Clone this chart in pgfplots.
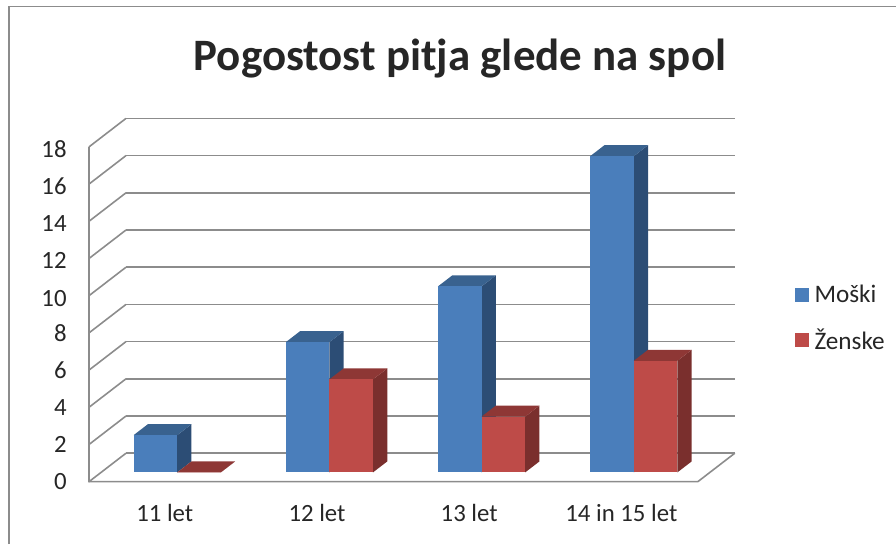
\documentclass[border=0pt]{standalone}
\usepackage{pgfplots}
\pgfplotsset{compat=1.18}
\usepackage{fontspec}
\setmainfont{Carlito}
\definecolor{gridgray}{HTML}{8C8C8C}
\definecolor{blueF}{HTML}{4A7EBB}
\definecolor{blueT}{HTML}{39628F}
\definecolor{blueS}{HTML}{2C4D75}
\definecolor{redF}{HTML}{BE4B48}
\definecolor{redT}{HTML}{8E3735}
\definecolor{redS}{HTML}{7A2F2D}
\definecolor{txt}{HTML}{262626}
% #1 left edge, #2 right edge, #3 value, #4 colour family
\newcommand{\threedbar}[4]{%
  \addplot3[fill=#4S,draw=none,forget plot] coordinates {(#2,0.326,0) (#2,0.712,0) (#2,0.712,#3) (#2,0.326,#3)};
  \addplot3[fill=#4T,draw=none,forget plot] coordinates {(#1,0.326,#3) (#2,0.326,#3) (#2,0.712,#3) (#1,0.712,#3)};
  \addplot3[fill=#4F,draw=none,forget plot] coordinates {(#1,0.326,0) (#2,0.326,0) (#2,0.326,#3) (#1,0.326,#3)};
}
\begin{document}
\begin{tikzpicture}[x=0.75pt,y=0.75pt]
\path[use as bounding box] (0,0) rectangle (896,544);
\draw[gridgray,line width=0.9pt] (9,0) -- (9,537.3) -- (896,537.3);
\begin{axis}[
  at={(123.83pt,46.73pt)}, anchor=origin,
  x={(114.15pt,0pt)}, y={(27.75pt,21.375pt)}, z={(0pt,13.95pt)},
  xmin=-0.5, xmax=3.5, ymin=0, ymax=1, zmin=0, zmax=18,
  clip=false,
  axis line style={draw=none},
  tick style={draw=none},
  xtick={0,1,2,3},
  xticklabels={11 let,12 let,13 let,14 in 15 let},
  ytick=\empty,
  ztick={0,2,4,6,8,10,12,14,16,18},
  zmajorgrids=true,
  major grid style={gridgray,line width=1.2pt},
  /pgf/number format/assume math mode=true,
  tick label style={font=\fontsize{18.6pt}{22pt}\selectfont,text=txt},
  zticklabel style={xshift=-13.25pt,yshift=2.6pt},
  xticklabel style={xshift=4.7pt,yshift=-13.75pt},
  title={\textbf{Pogostost pitja glede na spol}},
  title style={font=\fontsize{33.7pt}{40pt}\selectfont,text=txt,at={(axis cs:1.937,0,22.3)},anchor=center},
  legend style={at={(axis cs:4.138,0,10.71)},anchor=north west,draw=none,fill=none,inner sep=0pt,outer sep=0pt,
    font=\fontsize{18.9pt}{22pt}\selectfont,text=txt,row sep=13.8pt},
  legend cell align=left,
  legend image code/.code={\fill[#1] (0pt,-5.2pt) rectangle (10.5pt,5.2pt);\path (12.7pt,0pt);},
]
\addlegendimage{fill=blueF,draw=none}
\addlegendentry{Moški}
\addlegendimage{fill=redF,draw=none}
\addlegendentry{Ženske}
\addplot3[gridgray,line width=1.2pt,forget plot] coordinates {(-0.5,0,18) (-0.5,0,0) (3.5,0,0) (3.5,1,0)};
\threedbar{-0.2866}{0}{2}{blue}
\threedbar{0}{0.2866}{0}{red}
\threedbar{0.7134}{1}{7}{blue}
\threedbar{1}{1.2866}{5}{red}
\threedbar{1.7134}{2}{10}{blue}
\threedbar{2}{2.2866}{3}{red}
\threedbar{2.7134}{3}{17}{blue}
\threedbar{3}{3.2866}{6}{red}
\end{axis}
\end{tikzpicture}
\end{document}
